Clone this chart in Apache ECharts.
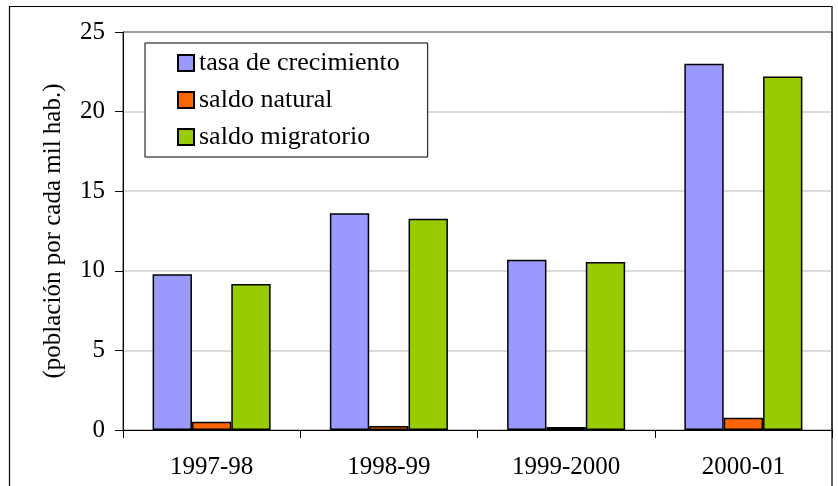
<!DOCTYPE html>
<html>
<head>
<meta charset="utf-8">
<script src="https://cdn.jsdelivr.net/npm/echarts@6/dist/echarts.min.js"></script>
<style>
html,body{margin:0;padding:0;background:#fff;}
#chart{width:838px;height:486px;}
</style>
</head>
<body>
<div id="chart"></div>
<script>
const categories = ['1997-98', '1998-99', '1999-2000', '2000-01'];
const seriesNames = ['tasa de crecimiento', 'saldo natural', 'saldo migratorio'];
const tasaCrecimiento = [9.78, 13.61, 10.70, 23.0];
const saldoNatural = [0.52, 0.25, 0.19, 0.77];
const saldoMigratorio = [9.17, 13.27, 10.55, 22.2];
const yTicks = [0, 5, 10, 15, 20, 25];
const yAxisTitle = '(población por cada mil hab.)';

const font = 'Liberation Serif';
const colors = ['#9999FF', '#FF6600', '#99CC00'];
const values = [tasaCrecimiento, saldoNatural, saldoMigratorio];

const chart = echarts.init(document.getElementById('chart'), null, {renderer: 'canvas'});
chart.setOption({
  animation: false,
  backgroundColor: '#fff',
  textStyle: {fontFamily: font},
  graphic: [{
    type: 'rect',
    shape: {x: 9.5, y: 6.5, width: 822.5, height: 500},
    style: {fill: 'none', stroke: '#000', lineWidth: 1.2},
    z: 100
  }],
  grid: {
    left: 123, right: 6, top: 32, bottom: 56,
    show: true, borderColor: '#404040', borderWidth: 1, backgroundColor: 'transparent'
  },
  legend: {
    orient: 'vertical',
    left: 145, top: 43,
    padding: [7, 28, 7, 32],
    itemGap: 11,
    itemWidth: 16, itemHeight: 16,
    icon: 'rect',
    backgroundColor: '#fff',
    borderColor: '#000', borderWidth: 1,
    textStyle: {fontFamily: font, fontSize: 26, color: '#000', lineHeight: 26},
    data: seriesNames
  },
  xAxis: {
    type: 'category',
    data: categories,
    axisLine: {lineStyle: {color: '#000', width: 1}},
    axisTick: {show: true, length: 8, lineStyle: {color: '#000'}},
    axisLabel: {fontFamily: font, fontSize: 25, color: '#000', margin: 25}
  },
  yAxis: {
    type: 'value',
    min: yTicks[0], max: yTicks[yTicks.length - 1], interval: 5,
    name: yAxisTitle,
    nameLocation: 'middle',
    nameRotate: 90,
    nameGap: 57,
    nameTextStyle: {fontFamily: font, fontSize: 25, color: '#000'},
    axisLine: {show: true, lineStyle: {color: '#000', width: 1}},
    axisTick: {show: true, length: 8, lineStyle: {color: '#000'}},
    axisLabel: {fontFamily: font, fontSize: 25, color: '#000', margin: 18},
    splitLine: {show: true, showMaxLine: false, lineStyle: {color: '#cfcfcf', width: 1.5}}
  },
  series: seriesNames.map((name, i) => ({
    name: name,
    type: 'bar',
    data: values[i],
    barGap: '0%',
    barCategoryGap: '33.4%',
    itemStyle: {color: colors[i], borderColor: '#000', borderWidth: 1.5}
  }))
});
</script>
</body>
</html>
